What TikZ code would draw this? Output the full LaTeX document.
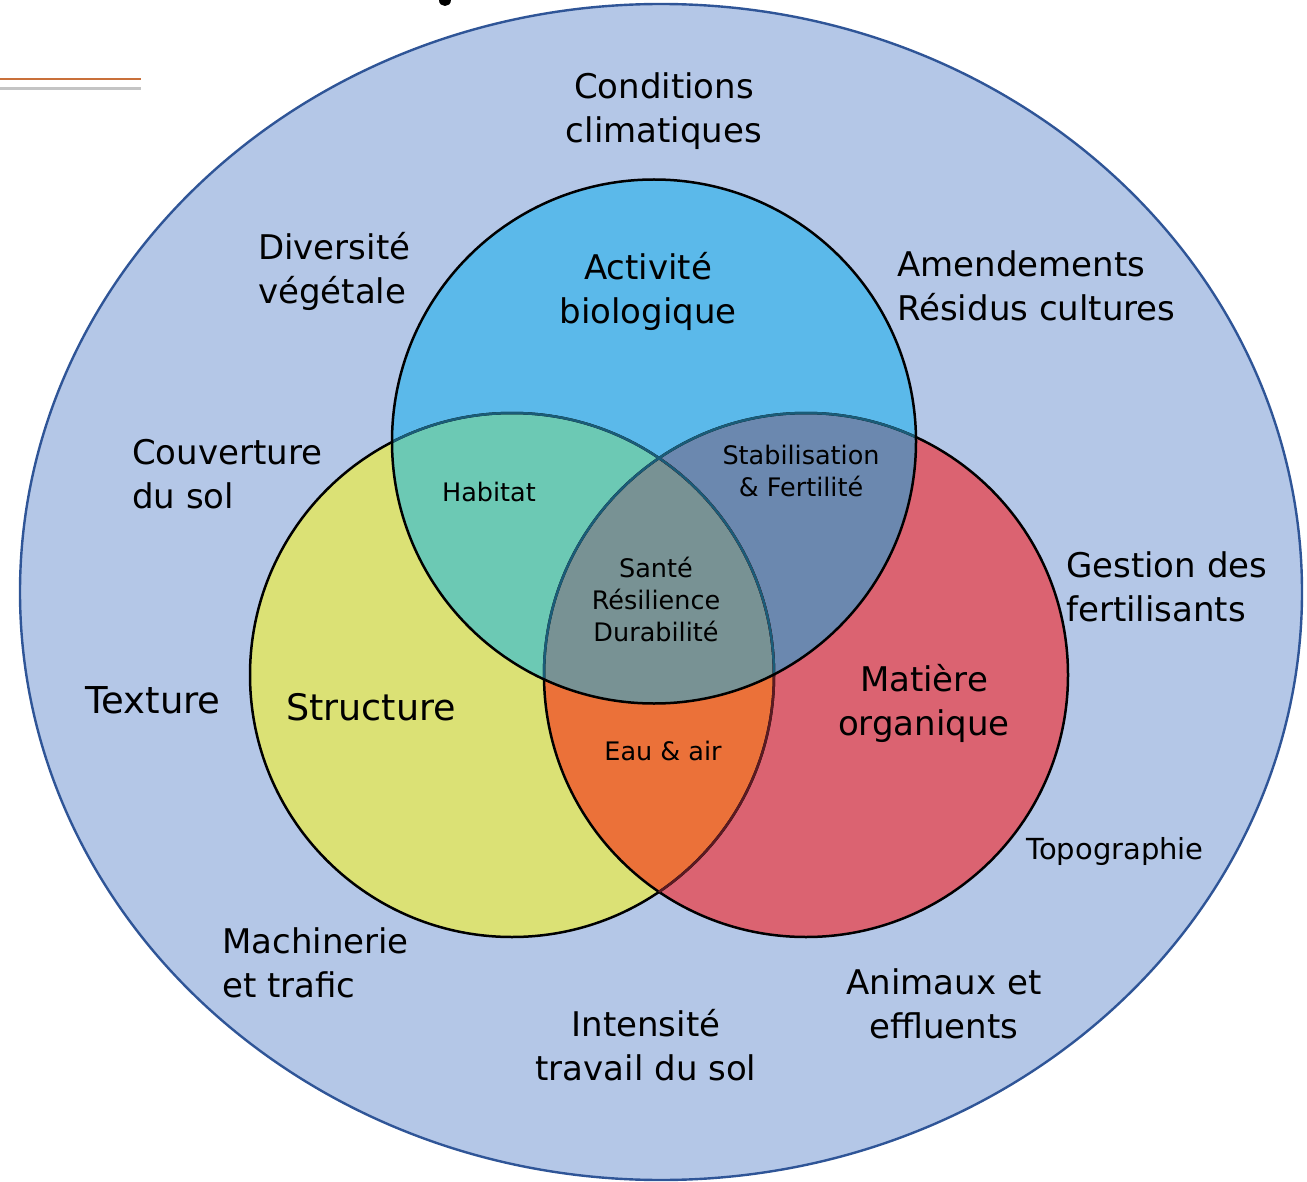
\documentclass[tikz,border=0pt]{standalone}
\usepackage{fontspec}
\setmainfont{DejaVu Sans}
\definecolor{soilbg}{HTML}{B4C7E7}
\definecolor{soilrim}{HTML}{2F5597}
\definecolor{bioblue}{HTML}{5BB9EA}
\definecolor{structyellow}{HTML}{DBE175}
\definecolor{mored}{HTML}{DB6371}
\definecolor{habteal}{HTML}{6CC9B4}
\definecolor{stabslate}{HTML}{6B88AF}
\definecolor{waterorange}{HTML}{EB7139}
\definecolor{coregray}{HTML}{789294}
\definecolor{rimteal}{HTML}{1A5C78}
\definecolor{rimred}{HTML}{5A1A22}
\definecolor{ruleorange}{HTML}{C9703A}
\definecolor{rulegray}{HTML}{C4C4C4}
\begin{document}
\begin{tikzpicture}[x=1pt,y=-1pt,
  big/.style={font=\fontsize{34}{44}\selectfont, inner sep=0pt},
  mid/.style={font=\fontsize{25.5}{32}\selectfont, inner sep=0pt, align=center},
  rim/.style={line width=2.5pt},
  r/.style={radius=262pt}]
\useasboundingbox (0,0) rectangle (1307,1182);

% thin header rules and a clipped glyph at the top edge
\coordinate (ruleA1) at (0,79);   \coordinate (ruleA2) at (141,79);
\coordinate (ruleB1) at (0,89);   \coordinate (ruleB2) at (141,89);
\draw[ruleorange, line width=1.3pt] (ruleA1) -- (ruleA2);
\draw[rulegray, line width=3pt] (ruleB1) -- (ruleB2);
\fill[black] (439,0) .. controls (439,8) and (451,8) .. (451,0) -- cycle;

% outer soil environment
\coordinate (cE) at (661,592);
\filldraw[fill=soilbg, draw=soilrim, line width=2.4pt] (cE) ellipse[x radius=641pt, y radius=588pt];

% the three circles
\coordinate (cB) at (654,441.5);
\coordinate (cY) at (512,675);
\coordinate (cR) at (806,675);
\fill[structyellow] (cY) circle[r];
\fill[mored] (cR) circle[r];
\fill[bioblue] (cB) circle[r];

% pairwise overlaps
\begin{scope}
  \clip (cY) circle[r];
  \fill[waterorange] (cR) circle[r];
  \fill[habteal] (cB) circle[r];
\end{scope}
\begin{scope}
  \clip (cR) circle[r];
  \fill[stabslate] (cB) circle[r];
\end{scope}
% triple overlap
\begin{scope}
  \clip (cY) circle[r];
  \clip (cR) circle[r];
  \fill[coregray] (cB) circle[r];
\end{scope}

% outlines
\draw[rim] (cY) circle[r];
\draw[rim] (cR) circle[r];
\begin{scope}
  \clip (cR) circle[r];
  \draw[rim, rimred] (cY) circle[r];
\end{scope}
\begin{scope}
  \clip (cB) circle[r];
  \draw[rim, rimteal] (cY) circle[r];
  \draw[rim, rimteal] (cR) circle[r];
\end{scope}
\draw[rim] (cB) circle[r];

% labels of the outer factors
\node[big, align=center] (clim) at (664,111) {Conditions\\climatiques};
\node[big, align=left, anchor=west] (divers) at (258,271) {Diversité\\végétale};
\node[big, align=left, anchor=west] (amend) at (897,286) {Amendements\\Résidus cultures};
\node[big, align=left, anchor=west] (couv) at (132,474) {Couverture\\du sol};
\node[big, align=left, anchor=west] (gest) at (1066,587) {Gestion des\\fertilisants};
\node[big, anchor=west, font=\fontsize{37}{44}\selectfont] (text) at (85,700) {Texture};
\node[big, font=\fontsize{29}{36}\selectfont] (topo) at (1115,851) {Topographie};
\node[big, align=left, anchor=west] (mach) at (222,963) {Machinerie\\et trafic};
\node[big, align=center] (anim) at (944,1004) {Animaux et\\effluents};
\node[big, align=center] (trav) at (646,1045) {Intensité\\travail du sol};

% labels of the circles
\node[big, align=center] (bio) at (648,291) {Activité\\biologique};
\node[big, font=\fontsize{36.5}{44}\selectfont] (struct) at (371,707) {Structure};
\node[big, align=center] (mo) at (924,703) {Matière\\organique};

% labels of the overlaps
\node[mid] (hab) at (489,492) {Habitat};
\node[mid] (stab) at (801,471) {Stabilisation\\\& Fertilité};
\node[mid] (eau) at (663,751) {Eau \& air};
\node[mid] (core) at (656,599) {Santé\\Résilience\\Durabilité};
\end{tikzpicture}
\end{document}
